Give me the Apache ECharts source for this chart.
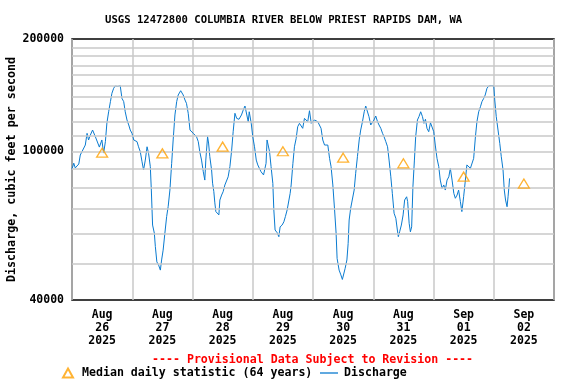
<!DOCTYPE html>
<html>
<head>
<meta charset="utf-8">
<script src="https://cdn.jsdelivr.net/npm/echarts@6/dist/echarts.min.js"></script>
<style>
html,body{margin:0;padding:0;background:#fff;}
#chart{width:576px;height:384px;}
</style>
</head>
<body>
<div id="chart"></div>
<script>
var FONT = '"DejaVu Sans Mono", monospace';
var titleText = 'USGS 12472800 COLUMBIA RIVER BELOW PRIEST RAPIDS DAM, WA';
var provisionalText = '---- Provisional Data Subject to Revision ----';
var yAxisName = 'Discharge, cubic feet per second';
var dayLabels = ['Aug\n26\n2025','Aug\n27\n2025','Aug\n28\n2025','Aug\n29\n2025','Aug\n30\n2025','Aug\n31\n2025','Sep\n01\n2025','Sep\n02\n2025'];
var medianValues = [99200, 98800, 103000, 100100, 96200, 92900, 85600, 82000];
var gridValues = [50000,60000,70000,80000,90000,100000,110000,120000,130000,140000,150000,160000,170000,180000,190000];
// hours since Aug 26 00:00
var hours = [0.0,0.7,1.3,2.0,2.7,3.3,4.0,5.3,6.0,6.6,7.3,8.2,9.3,10.0,10.9,11.9,12.6,13.3,13.9,14.6,15.3,15.9,16.6,17.2,18.2,19.2,19.9,20.6,21.2,21.9,22.6,23.2,23.9,24.6,25.2,25.9,26.5,27.2,27.9,28.5,29.2,29.9,30.5,31.2,31.6,32.1,32.8,33.2,33.8,34.5,35.2,35.7,36.3,37.0,37.7,38.3,39.0,39.7,40.3,41.0,41.7,42.3,43.3,44.3,45.0,45.6,46.3,47.0,47.6,48.3,49.0,49.6,50.3,50.9,51.6,52.3,52.9,53.3,53.6,54.0,54.4,54.9,55.6,56.0,56.5,56.9,57.3,57.8,58.5,58.9,59.6,60.2,60.9,61.6,62.2,62.9,63.6,64.2,64.9,65.6,66.5,67.5,68.2,68.9,69.5,70.2,70.6,71.4,72.0,72.7,73.4,74.0,74.7,75.3,76.3,77.3,77.7,78.3,78.7,79.3,80.0,80.4,80.9,81.7,82.4,82.9,83.7,84.4,85.0,85.7,86.4,86.9,87.3,88.0,88.6,89.3,89.9,90.6,91.3,91.9,92.6,93.3,93.9,94.6,95.3,95.9,96.6,97.2,97.9,98.6,99.2,99.9,100.6,101.2,101.9,102.6,103.2,103.9,104.6,105.2,105.6,106.4,107.1,107.7,108.4,108.8,109.5,110.0,110.4,111.0,111.7,112.4,113.0,113.7,114.4,115.0,115.7,116.4,117.0,117.7,118.3,119.0,119.7,120.3,121.0,121.7,122.3,123.0,123.7,124.3,125.0,125.7,126.3,127.0,127.6,128.3,129.0,129.6,130.0,130.5,131.2,131.9,132.5,132.9,133.3,133.7,134.3,134.8,135.3,135.8,136.4,136.9,137.6,138.2,138.9,139.6,140.2,140.8,141.4,142.1,142.8,143.4,144.1,144.7,145.4,146.1,146.7,147.4,148.1,148.7,149.4,150.1,150.7,151.4,152.1,152.7,153.4,154.0,154.7,155.3,156.0,156.7,157.3,158.0,158.7,159.3,160.0,160.7,161.3,162.0,162.7,163.3,164.0,164.6,165.3,166.0,167.0,168.0,168.4,169.0,169.7,170.4,171.0,171.7,172.2,172.7,173.3,173.7,174.1,174.3];
var discharge = [89700,93000,90300,91400,92500,97800,97000,104000,111800,107300,110600,114100,109500,108600,102700,107300,99000,106200,119100,127700,135900,143100,147600,149700,149300,150100,138700,135900,127700,121400,117700,114100,111800,107300,106200,106200,102900,99800,93800,89200,94800,102900,98800,91000,78800,63500,60400,55600,50600,49600,48100,51200,54400,60400,66900,71100,78800,92900,107300,125200,135900,141600,145400,141600,137300,134500,126500,114100,112900,111800,111800,109500,106200,99800,94800,88200,83800,94800,100800,109500,105300,96800,89200,82200,78000,72800,69000,68300,67600,74100,76400,78000,81300,82100,85500,91000,100800,112900,126500,122600,121900,125200,129000,132300,131700,120100,127700,118900,109500,102900,94800,92000,91000,88200,86500,92900,107300,108400,99800,91000,82100,69700,61600,60600,59100,62800,63500,64800,66900,69700,70400,77200,81300,92900,102900,108400,116400,118900,118900,115300,122600,123900,120100,128500,118900,117700,121400,120100,120100,118900,115300,107300,104000,102900,104000,95800,91000,81300,69700,60400,51700,48100,46700,45400,45000,48600,51200,56700,65500,70400,71100,78800,87400,96800,107300,114100,120100,127700,132300,132300,123900,117700,116400,121400,124400,120100,117700,115300,111800,109500,106200,102900,94800,85500,77200,68300,66200,61600,59100,60900,63500,67600,74100,74900,75600,73400,64200,60900,62800,80400,94800,109500,121400,123900,127700,123900,118900,121900,115300,112900,119300,119300,112900,104000,95800,91000,83800,79600,81300,78800,83800,85500,90100,83800,77200,74900,76400,78800,73400,69000,75600,83800,92000,91000,90100,91000,95800,109500,120100,127700,131700,135900,138700,141600,147600,149700,150100,149700,137300,123900,114100,105100,96800,89200,78800,74100,71100,75600,81300,84700];

var dischargeData = hours.map(function(h, i){ return [h, discharge[i]]; });
var medianData = medianValues.map(function(v, i){ return [i, v]; });

var chart = echarts.init(document.getElementById('chart'), null, {renderer: 'canvas'});
chart.setOption({
  animation: false,
  backgroundColor: '#ffffff',
  title: [
    {text: titleText, left: 105, top: 14.5, padding: 0,
     textStyle: {fontFamily: FONT, fontSize: 10.6, fontWeight: 'bold', color: '#000'}},
    {text: provisionalText, left: 152, top: 354, padding: 0,
     textStyle: {fontFamily: FONT, fontSize: 11.6, fontWeight: 'bold', color: '#ff0000'}}
  ],
  legend: [
    {data: ['Median daily statistic (64 years)'], left: 62, top: 367, padding: 0,
     itemWidth: 10, itemHeight: 9,
     textStyle: {fontFamily: FONT, fontSize: 11.6, fontWeight: 'bold', color: '#000', padding: [0,0,0,4]}},
    {data: [{name: 'Discharge', icon: 'rect'}], left: 320, top: 367, padding: 0, itemWidth: 18, itemHeight: 1.3,
     textStyle: {fontFamily: FONT, fontSize: 11.6, fontWeight: 'bold', color: '#000', padding: [0,0,0,1]}}
  ],
  grid: {left: 72, right: 22, top: 39, bottom: 84, outerBoundsMode: 'none', containLabel: false,
         show: true, borderColor: '#000', borderWidth: 1.5, backgroundColor: 'transparent'},
  xAxis: [
    {type: 'value', min: 0, max: 192, interval: 24, position: 'bottom',
     axisLine: {show: false}, axisTick: {show: false}, axisLabel: {show: false},
     splitLine: {show: true, lineStyle: {color: '#c8c8c8', width: 1.5}}},
    {type: 'category', data: dayLabels, position: 'bottom', boundaryGap: true,
     axisLine: {show: false}, axisTick: {show: false}, splitLine: {show: false},
     axisLabel: {fontFamily: FONT, fontSize: 11.5, fontWeight: 'bold', color: '#000', lineHeight: 13, margin: 9, interval: 0}}
  ],
  yAxis: {
    type: 'log', min: 40000, max: 200000, logBase: 10,
    name: yAxisName, nameLocation: 'middle', nameGap: 54, nameRotate: 90, nameMoveOverlap: false,
    nameTextStyle: {fontFamily: FONT, fontSize: 11.7, fontWeight: 'bold', color: '#000'},
    axisLine: {show: false}, axisTick: {show: false}, splitLine: {show: false},
    axisLabel: {fontFamily: FONT, fontSize: 11.5, fontWeight: 'bold', color: '#000', margin: 8,
      formatter: function(v){ return String(Math.round(v)); }}
  },
  series: [
    {name: 'grid', type: 'line', data: [], z: 1, silent: true,
     markLine: {silent: true, symbol: ['none','none'], label: {show: false},
       lineStyle: {color: '#c8c8c8', width: 1.5, type: 'solid'}, animation: false,
       data: gridValues.map(function(v){ return {yAxis: v}; })}},
    {name: 'Discharge', type: 'line', xAxisIndex: 0, data: dischargeData, symbol: 'none', z: 4,
     lineStyle: {color: '#0a7bd0', width: 1}, itemStyle: {color: '#0a7bd0'}},
    {name: 'Median daily statistic (64 years)', type: 'scatter', xAxisIndex: 1, data: medianData,
     symbol: 'triangle', symbolSize: [11, 9], z: 5,
     itemStyle: {color: 'rgba(0,0,0,0)', borderColor: '#ffa000', borderWidth: 1.3}}
  ]
});
</script>
</body>
</html>
